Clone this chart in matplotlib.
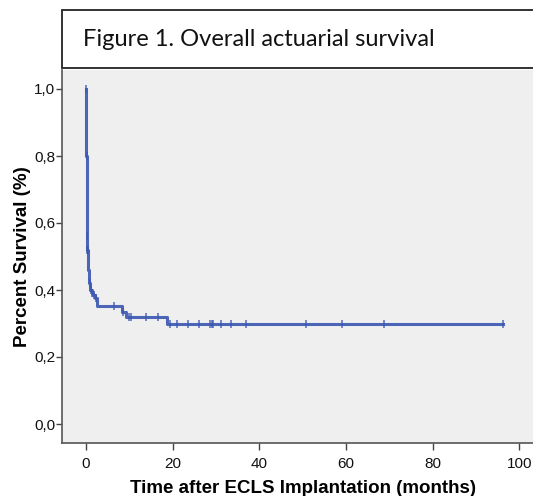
import numpy as np
import matplotlib
matplotlib.use('Agg')
import matplotlib.pyplot as plt
from matplotlib.patches import Rectangle

# step function of the Kaplan-Meier curve (months, survival)
event_times = [0, 0.05, 0.1, 0.15, 0.2, 0.25, 0.3, 0.4, 0.5, 0.6, 0.8, 1.0,
               1.3, 1.6, 2.0, 2.6, 8.4, 9.3, 18.8]
survival = [1.0, 0.9, 0.8, 0.7, 0.62, 0.56, 0.52, 0.49, 0.46, 0.44, 0.42, 0.40,
            0.39, 0.385, 0.375, 0.352, 0.335, 0.319, 0.30]
end_time = 96.2

# censored observations (months)
censor_times = [0.03, 0.12, 0.26, 0.33, 0.36, 0.9, 1.2, 1.5, 1.8, 2.2, 6.5, 8.6,
                10.0, 10.4, 13.8, 16.7, 19.4, 20.9, 23.6, 26.1, 28.6, 29.0, 29.4,
                31.2, 33.4, 36.9, 50.8, 59.1, 68.8, 96.2]

x_ticks = [0, 20, 40, 60, 80, 100]
y_ticks = [0.0, 0.2, 0.4, 0.6, 0.8, 1.0]
y_ticklabels = ['0,0', '0,2', '0,4', '0,6', '0,8', '1,0']

W, H = 533, 496
fig = plt.figure(figsize=(W / 100, H / 100), dpi=100)
fig.patch.set_facecolor('white')

ax = fig.add_axes([62 / W, 1 - 443 / H, (548 - 62) / W, (443 - 70) / H])
ax.set_facecolor('#efefef')

line_col = '#3a56b0'
t = list(event_times) + [end_time]
s = list(survival) + [survival[-1]]
ax.step(t, s, where='post', color=line_col, lw=2.2, alpha=0.9)

cs = [survival[np.searchsorted(event_times, c, side='right') - 1] for c in censor_times]
ax.plot(censor_times, cs, linestyle='none', marker='|', markersize=6,
        markeredgewidth=1.2, color=line_col, alpha=0.8)

ax.set_xlim(-24 / 4.333, (548 - 86) / 4.333)
ax.set_ylim(-19 / 335, 1 + 19 / 335)
ax.set_xticks(x_ticks)
ax.set_yticks(y_ticks)
ax.set_yticklabels(y_ticklabels)
for lab in ax.get_xticklabels() + ax.get_yticklabels():
    lab.set_fontfamily('Liberation Sans')
    lab.set_fontsize(11)
    lab.set_color('#111111')
ax.tick_params(axis='y', direction='out', length=4, width=1, color='#444444', pad=1)
ax.tick_params(axis='x', direction='out', length=5, width=1, color='#444444', pad=5)

for side in ['left', 'bottom']:
    ax.spines[side].set_color('#555555')
    ax.spines[side].set_linewidth(1.2)
ax.spines['top'].set_visible(False)
ax.spines['right'].set_visible(False)

ax.set_ylabel('Percent Survival (%)', fontfamily='Liberation Sans', fontsize=13.5,
              fontweight='bold', va='center')
ax.yaxis.set_label_coords(-0.082, 0.501)
ax.set_xlabel('Time after ECLS Implantation (months)', fontfamily='Liberation Sans',
              fontsize=13.5, fontweight='bold', va='baseline')
ax.xaxis.set_label_coords(0.496, -0.135)

# title box on top of the plot
fig.patches.append(Rectangle((62 / W, 1 - 68 / H), (560 - 62) / W, 58 / H,
                             transform=fig.transFigure, facecolor='white',
                             edgecolor='#222222', lw=1.3))
fig.text(83 / W, 1 - 40 / H, 'Figure 1. Overall actuarial survival',
         fontfamily='Lato', fontsize=17, va='center', ha='left', color='#111111')

fig.savefig('out.png', dpi=100)
